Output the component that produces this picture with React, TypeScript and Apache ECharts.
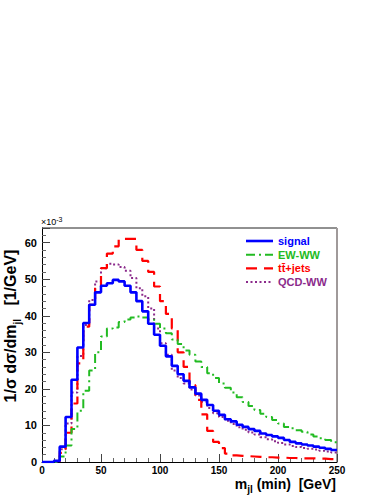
import React, { useEffect, useRef } from "react";
import * as echarts from "echarts";

const BIN_WIDTH = 5;
const X_TICKS = [0, 50, 100, 150, 200, 250];
const Y_TICKS = [0, 10, 20, 30, 40, 50, 60];

const signal = [
  0, 0, 0.3, 4.2, 12.3, 22.5, 31.3, 38, 43, 46.4,
  48.2, 48.9, 49.8, 49.4, 48.2, 46.4, 44, 41.2, 37.8, 34.8,
  31.8, 28.9, 26.3, 24, 22.2, 20.4, 18.7, 17, 15.6, 14,
  12.9, 11.7, 11.1, 10.2, 9.6, 9, 8.5, 7.8, 7.4, 7,
  6.6, 6, 5.5, 5.1, 4.8, 4.5, 4.2, 3.9, 3.6, 3.3,
];
const ewWW = [
  0, 0, 0, 1.5, 4.5, 9, 14, 19.5, 25, 30,
  34.3, 36.5, 36.8, 38.3, 39, 39.5, 39.8, 39.5, 39, 37.8,
  36.5, 35.2, 33.5, 32.3, 30.5, 29.3, 27.5, 26, 24.3, 23,
  21.5, 20.3, 19, 17.7, 16.4, 15.3, 14.2, 13.2, 12.3, 11.5,
  10.5, 9.6, 9.2, 8.7, 8.3, 7.5, 7, 6.5, 6, 5.4,
];
const ttJets = [
  0, 0, 0, 2.5, 8, 16, 27, 37, 43, 47.5,
  53, 57, 59, 61, 61, 61, 58, 55, 52, 48,
  44, 40.5, 36.5, 30, 26, 21, 17, 13, 8.5, 5.5,
  3.8, 2.3, 1.8, 1.7, 1.6, 1.5, 1.4, 1.3, 1.3, 1.2,
  1.2, 1.1, 1.1, 1.0, 1.0, 1.0, 0.9, 0.9, 0.8, 0.8,
];
const qcdWW = [
  0, 0, 0, 3.5, 10.5, 19, 29, 37.5, 44.3, 49.4,
  53, 54.2, 54, 53.3, 52.3, 50.3, 47.5, 45.3, 42, 36.5,
  32.5, 29.3, 25, 23, 21.5, 19.8, 18.2, 16.5, 14.8, 13.3,
  12.3, 11.3, 10.4, 9.5, 8.8, 8.1, 7.5, 6.8, 6.2, 5.7,
  5.2, 4.8, 4.4, 4.1, 3.8, 3.6, 3.4, 3.1, 2.9, 2.6,
];

const SERIES = [
  { name: "signal", values: signal, color: "#0000ff", width: 2.6, dash: "solid" as any },
  { name: "EW-WW", values: ewWW, color: "#22bb22", width: 2, dash: [9, 4, 2, 4] },
  { name: "tt\u0304+jets", values: ttJets, color: "#ff0000", width: 2.2, dash: [11, 7] },
  { name: "QCD-WW", values: qcdWW, color: "#8b2a8b", width: 2, dash: [2, 2.5] },
];

const FONT = "'Liberation Sans', Arial, Helvetica, sans-serif";

function toHist(values: number[]) {
  const pts = values.map((v, i) => [i * BIN_WIDTH, v]);
  pts.push([values.length * BIN_WIDTH, values[values.length - 1]]);
  return pts;
}

export default function App() {
  const ref = useRef<HTMLDivElement>(null);
  useEffect(() => {
    if (!ref.current) return;
    const chart = echarts.init(ref.current, undefined, { renderer: "svg" });
    const legendX = 246;
    const legendY0 = 241;
    const legendDy = 13.7;
    const legendGraphics: any[] = [];
    SERIES.forEach((s, i) => {
      const y = legendY0 + i * legendDy;
      legendGraphics.push({
        type: "line",
        shape: { x1: legendX, y1: y, x2: legendX + 27, y2: y },
        style: {
          stroke: s.color,
          lineWidth: s.width,
          lineDash: Array.isArray(s.dash) ? s.dash : null,
        },
      });
      legendGraphics.push({
        type: "text",
        x: legendX + 32,
        y: y,
        style: {
          text: s.name,
          fill: s.color,
          font: `bold 11px ${FONT}`,
          verticalAlign: "middle",
          align: "left",
        },
      });
    });

    chart.setOption({
      animation: false,
      grid: { left: 42, right: 46, top: 228, bottom: 33, show: false },
      xAxis: {
        type: "value",
        min: 0,
        max: 250,
        interval: 50,
        axisLine: { show: true, onZero: false, lineStyle: { color: "#000", width: 1 } },
        axisTick: { show: true, inside: true, length: 8, lineStyle: { color: "#444" } },
        minorTick: { show: true, splitNumber: 5, length: 4, lineStyle: { color: "#666" } },
        splitLine: { show: false },
        axisLabel: {
          margin: 3,
          color: "#000",
          fontFamily: FONT,
          fontWeight: "bold",
          fontSize: 10,
          lineHeight: 10,
          formatter: (v: number) => (X_TICKS.includes(v) ? String(v) : ""),
        },
      },
      yAxis: {
        type: "value",
        min: 0,
        max: 64,
        interval: 10,
        axisLine: { show: true, lineStyle: { color: "#000", width: 1 } },
        axisTick: { show: true, inside: true, length: 8, lineStyle: { color: "#444" } },
        minorTick: { show: true, splitNumber: 5, length: 4, lineStyle: { color: "#666" } },
        splitLine: { show: false },
        axisLabel: {
          margin: 5,
          color: "#000",
          fontFamily: FONT,
          fontWeight: "bold",
          fontSize: 11,
          formatter: (v: number) => (Y_TICKS.includes(v) ? String(v) : ""),
        },
      },
      series: SERIES.map((s, i) => ({
        type: "line",
        name: s.name,
        data: toHist(s.values),
        step: "end",
        showSymbol: false,
        symbol: "none",
        z: 10 - i,
        lineStyle: { color: s.color, width: s.width, type: s.dash },
      })),
      graphic: [
        {
          type: "line",
          shape: { x1: 42, y1: 228, x2: 337, y2: 228 },
          style: { stroke: "#222", lineWidth: 1 },
        },
        {
          type: "line",
          shape: { x1: 337, y1: 228, x2: 337, y2: 462 },
          style: { stroke: "#a09a9a", lineWidth: 2 },
        },
        {
          type: "text",
          x: 41,
          y: 228,
          style: {
            text: "\u00d710{sup|-3}",
            font: `9px ${FONT}`,
            fill: "#000",
            verticalAlign: "bottom",
            rich: {
              sup: { fontSize: 7, fontFamily: FONT, verticalAlign: "top", padding: [0, 0, 5, 0] },
            },
          },
        },
        {
          type: "text",
          x: 12,
          y: 326,
          rotation: Math.PI / 2,
          style: {
            text: "{a|1/\u03c3 d\u03c3/dm}{s|jl}{a|   [1/GeV]}",
            align: "center",
            verticalAlign: "middle",
            fill: "#000",
            rich: {
              a: { font: `bold 16px ${FONT}`, fill: "#000", verticalAlign: "bottom", padding: [0, 0, 4, 0] },
              s: { font: `bold 10px ${FONT}`, fill: "#000", verticalAlign: "bottom" },
            },
          },
        },
        {
          type: "text",
          x: 336,
          y: 494,
          style: {
            text: "{a|m}{s|jl}{a| (min)  [GeV]}",
            align: "right",
            verticalAlign: "bottom",
            fill: "#000",
            rich: {
              a: { font: `bold 14px ${FONT}`, lineHeight: 14, fill: "#000", verticalAlign: "bottom", padding: [0, 0, 3, 0] },
              s: { font: `bold 10px ${FONT}`, lineHeight: 10, fill: "#000", verticalAlign: "bottom" },
            },
          },
        },
        ...legendGraphics,
      ],
    });
    return () => chart.dispose();
  }, []);
  return <div ref={ref} style={{ width: 383, height: 495, position: "absolute", left: 0, top: 0 }} />;
}
